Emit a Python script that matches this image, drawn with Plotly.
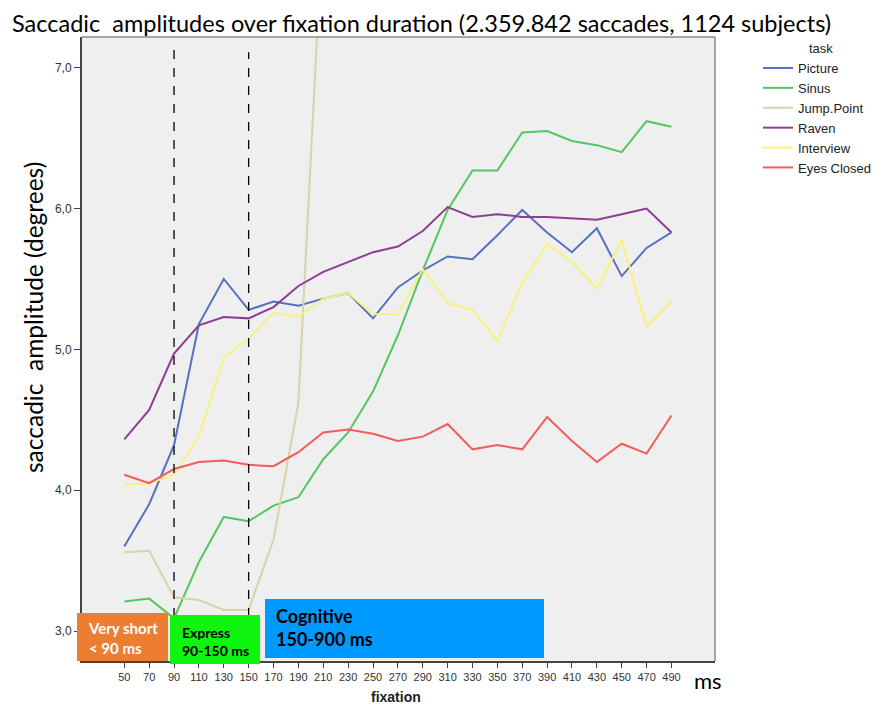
import plotly.graph_objects as go

# fixation duration bins (ms)
fixation = [50, 70, 90, 110, 130, 150, 170, 190, 210, 230, 250, 270,
            290, 310, 330, 350, 370, 390, 410, 430, 450, 470, 490]

picture = [3.60, 3.90, 4.32, 5.18, 5.50, 5.28, 5.34, 5.31, 5.36, 5.40, 5.22, 5.44,
           5.56, 5.66, 5.64, 5.81, 5.99, 5.83, 5.69, 5.86, 5.52, 5.72, 5.83]
sinus = [3.21, 3.23, 3.09, 3.49, 3.81, 3.78, 3.89, 3.95, 4.22, 4.41, 4.70, 5.10,
         5.56, 5.99, 6.27, 6.27, 6.54, 6.55, 6.48, 6.45, 6.40, 6.62, 6.58]
# jump.point leaves the visible range after 210 ms
jump_point = [3.56, 3.57, 3.24, 3.22, 3.15, 3.15, 3.65, 4.62, 8.1, None, None, None,
              None, None, None, None, None, None, None, None, None, None, None]
raven = [4.36, 4.57, 4.97, 5.17, 5.23, 5.22, 5.30, 5.45, 5.55, 5.62, 5.69, 5.73,
         5.84, 6.01, 5.94, 5.96, 5.94, 5.94, 5.93, 5.92, 5.96, 6.00, 5.83]
interview = [4.04, 4.05, 4.11, 4.38, 4.94, 5.08, 5.26, 5.23, 5.36, 5.40, 5.25, 5.25,
             5.57, 5.33, 5.28, 5.06, 5.47, 5.75, 5.62, 5.43, 5.78, 5.16, 5.34]
eyes_closed = [4.11, 4.05, 4.15, 4.20, 4.21, 4.18, 4.17, 4.27, 4.41, 4.43, 4.40, 4.35,
               4.38, 4.47, 4.29, 4.32, 4.29, 4.52, 4.35, 4.20, 4.33, 4.26, 4.53]

series = [
    ("Picture", picture, "#5670C2"),
    ("Sinus", sinus, "#52C760"),
    ("Jump.Point", jump_point, "#D9D3AA"),
    ("Raven", raven, "#8C3F92"),
    ("Interview", interview, "#F6F27C"),
    ("Eyes Closed", eyes_closed, "#F25C5C"),
]

y_ticks = [3.0, 4.0, 5.0, 6.0, 7.0]
y_labels = ["3,0", "4,0", "5,0", "6,0", "7,0"]
split_lines = [90, 150]

# the page body adds an 8px margin, so the figure is drawn 8px smaller
OFF = 8
W, H = 889 - OFF, 706 - OFF
# plot area in page pixels: x 82..715, y 37..661
L, R, T, B = 82, 715, 37, 661


def px(x):
    return (x - L) / (R - L)


def py(y):
    return (B - y) / (B - T)


fig = go.Figure()
for name, vals, color in series:
    fig.add_trace(go.Scatter(
        x=fixation, y=vals, name=name, mode="lines",
        line=dict(color=color, width=2), connectgaps=False,
    ))

shapes = []
for xv, top in zip(split_lines, [7.155, 7.11]):
    shapes.append(dict(type="line", xref="x", yref="y", x0=xv, x1=xv, y0=3.1, y1=top,
                       line=dict(color="black", width=1.3, dash="dash"), layer="above"))

boxes = [
    ((77, 168, 613, 661), "#ED7D31"),
    ((170, 260, 615, 664), "#0FF50F"),
    ((265, 544, 599, 658), "#0099FF"),
]
for (x0, x1, y0, y1), color in boxes:
    shapes.append(dict(type="rect", xref="paper", yref="paper",
                       x0=px(x0), x1=px(x1), y0=py(y1), y1=py(y0),
                       fillcolor=color, line=dict(width=0), layer="above"))

# top and right frame of the plot area
shapes.append(dict(type="line", xref="paper", yref="paper", x0=0, x1=1, y0=1, y1=1,
                   line=dict(color="#8A8A8A", width=1.5)))
shapes.append(dict(type="line", xref="paper", yref="paper", x0=1, x1=1, y0=0, y1=1,
                   line=dict(color="#8A8A8A", width=1.5)))

font_box = "Lato, 'Open Sans', sans-serif"
font_axis = "Liberation Sans, Arial, sans-serif"
annotations = [
    dict(text="<b>Very short<br>&lt; 90 ms</b>", x=px(86), y=py(638), xanchor="left",
         yanchor="middle", font=dict(color="white", size=15, family=font_box), align="left"),
    dict(text="<b>Express<br>90-150 ms</b>", x=px(180), y=py(641), xanchor="left",
         yanchor="middle", font=dict(color="black", size=14, family=font_box), align="left"),
    dict(text="<b>Cognitive<br>150-900 ms</b>", x=px(274), y=py(627), xanchor="left",
         yanchor="middle", font=dict(color="black", size=18, family=font_box), align="left"),
    dict(text="saccadic  amplitude (degrees)", textangle=-90, x=px(33), y=py(318),
         xanchor="center", yanchor="middle", font=dict(size=24.5, family=font_box, color="black")),
    dict(text="<b>fixation</b>", x=px(396), y=py(697), xanchor="center", yanchor="middle",
         font=dict(size=14, family=font_axis, color="#222")),
    dict(text="ms", x=px(692), y=py(681), xanchor="left", yanchor="middle",
         font=dict(size=22, family=font_box, color="black")),
    dict(text="task", x=px(821), y=py(48), xanchor="center", yanchor="middle",
         font=dict(size=13, family=font_axis, color="#222")),
    dict(text="Saccadic  amplitudes over fixation duration (2.359.842 saccades, 1124 subjects)",
         x=px(OFF + 3), y=py(OFF), xanchor="left", yanchor="top", borderpad=0,
         font=dict(size=23.5, family=font_box, color="black")),
]
for a in annotations:
    a.update(xref="paper", yref="paper", showarrow=False)

fig.update_layout(
    width=W, height=H,
    paper_bgcolor="white",
    plot_bgcolor="#EFEFEF",
    margin=dict(l=L - OFF, r=W - (R - OFF), t=T - OFF, b=H - (B - OFF), autoexpand=False),
    xaxis=dict(range=[16, 525], tickvals=fixation, ticktext=[str(v) for v in fixation],
               showgrid=False, zeroline=False, ticks="outside", ticklen=5, tickcolor="#444",
               showline=True, linecolor="#444", linewidth=1.5,
               tickfont=dict(size=11, family=font_axis, color="#333")),
    yaxis=dict(range=[2.787, 7.218], tickvals=y_ticks, ticktext=y_labels,
               showgrid=False, zeroline=False, ticks="outside", ticklen=6, tickcolor="#444",
               showline=True, linecolor="#444", linewidth=2,
               tickfont=dict(size=12, family=font_axis, color="#333")),
    legend=dict(x=px(758), y=py(53), xanchor="left", yanchor="top",
                font=dict(size=13, family=font_axis, color="#222"),
                bgcolor="rgba(0,0,0,0)", tracegroupgap=0, itemwidth=30),
    shapes=shapes,
    annotations=annotations,
)

fig.write_html("out.html")
